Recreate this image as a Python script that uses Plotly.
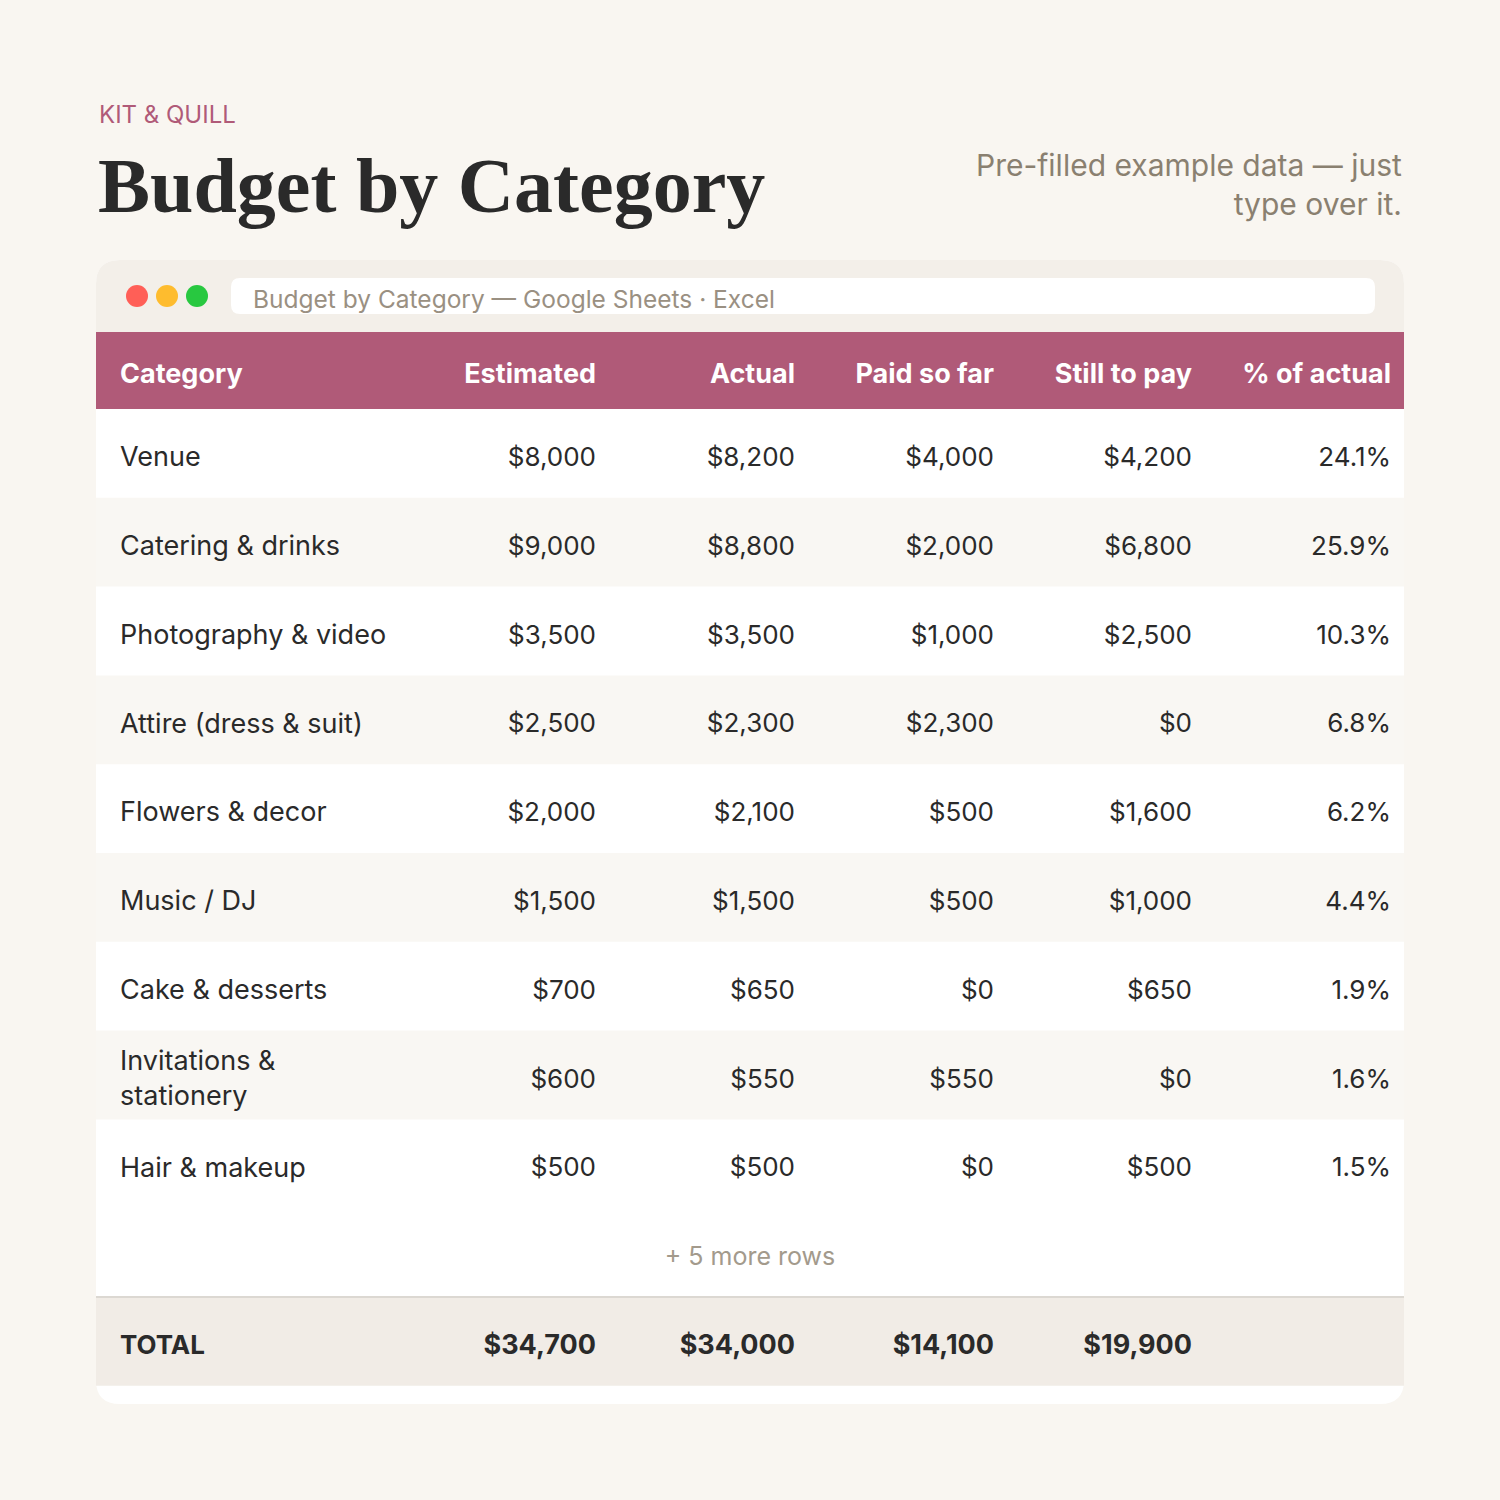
import plotly.graph_objects as go

# ---- data ----
categories = ["Venue", "Catering & drinks", "Photography & video", "Attire (dress & suit)",
              "Flowers & decor", "Music / DJ", "Cake & desserts", "Invitations &<br>stationery",
              "Hair & makeup"]
estimated = [8000, 9000, 3500, 2500, 2000, 1500, 700, 600, 500]
actual = [8200, 8800, 3500, 2300, 2100, 1500, 650, 550, 500]
paid_so_far = [4000, 2000, 1000, 2300, 500, 500, 0, 550, 0]
still_to_pay = [4200, 6800, 2500, 0, 1600, 1000, 650, 0, 500]
pct_of_actual = [24.1, 25.9, 10.3, 6.8, 6.2, 4.4, 1.9, 1.6, 1.5]

headers = ["Category", "Estimated", "Actual", "Paid so far", "Still to pay", "% of actual"]
totals = [34700, 34000, 14100, 19900]
hidden_rows = 5

# ---- layout constants ----
BG = "#F9F6F1"
ROSE = "#B05A78"
INK = "#2A2A2A"
SANS = "Inter, Open Sans, sans-serif"
SERIF = "Liberation Serif, DejaVu Serif, serif"
OFF = 8   # page body margin, so axis units line up with window pixels
DY = 6    # nudge table text down a little (font metrics)

CARD_L, CARD_R, CARD_T, CARD_B = 96, 1404, 260, 1404
HEAD_T, HEAD_B = 332, 409
ROW_H = 88.8
COL_LEFT = 120
COL_RIGHT = [596, 795, 994, 1192, 1391]


def money(v):
    return f"${v:,}"


def rounded_path(x0, y0, x1, y1, r, top=True, bottom=True):
    rt = r if top else 0
    rb = r if bottom else 0
    return (f"M{x0 + rt},{y0} L{x1 - rt},{y0} Q{x1},{y0} {x1},{y0 + rt} "
            f"L{x1},{y1 - rb} Q{x1},{y1} {x1 - rb},{y1} L{x0 + rb},{y1} "
            f"Q{x0},{y1} {x0},{y1 - rb} L{x0},{y0 + rt} Q{x0},{y0} {x0 + rt},{y0} Z")


n = len(categories)
head_mid = (HEAD_T + HEAD_B) / 2 + DY
row_mid = [HEAD_B + ROW_H * (i + 0.5) + DY for i in range(n)]
more_mid = HEAD_B + ROW_H * (n + 0.5) + DY
total_top = HEAD_B + ROW_H * (n + 1)
total_bot = total_top + ROW_H
total_mid = (total_top + total_bot) / 2 + DY

shapes = []
# card
shapes.append(dict(type="path", path=rounded_path(CARD_L, CARD_T, CARD_R, CARD_B, 24),
                   fillcolor="white", line=dict(width=0), layer="below"))
# window bar
shapes.append(dict(type="path", path=rounded_path(CARD_L, CARD_T, CARD_R, HEAD_T, 24, bottom=False),
                   fillcolor="#F3EFE9", line=dict(width=0), layer="below"))
# address bar
shapes.append(dict(type="path", path=rounded_path(231, 278, 1375, 314, 9),
                   fillcolor="white", line=dict(width=0), layer="below"))
# traffic lights
for cx, col in zip([137, 167, 197], ["#FF5F57", "#FEBC2E", "#28C840"]):
    shapes.append(dict(type="circle", x0=cx - 11, x1=cx + 11, y0=296 - 11, y1=296 + 11,
                       fillcolor=col, line=dict(width=0), layer="below"))
# header band
shapes.append(dict(type="rect", x0=CARD_L, x1=CARD_R, y0=HEAD_T, y1=HEAD_B,
                   fillcolor=ROSE, line=dict(width=0), layer="below"))
# zebra rows
for i in range(n):
    if i % 2 == 1:
        shapes.append(dict(type="rect", x0=CARD_L, x1=CARD_R,
                           y0=HEAD_B + ROW_H * i, y1=HEAD_B + ROW_H * (i + 1),
                           fillcolor="#F9F7F3", line=dict(width=0), layer="below"))
# total band
shapes.append(dict(type="rect", x0=CARD_L, x1=CARD_R, y0=total_top, y1=total_bot,
                   fillcolor="#F1ECE6", line=dict(width=0), layer="below"))
shapes.append(dict(type="line", x0=CARD_L, x1=CARD_R, y0=total_top, y1=total_top,
                   line=dict(color="#DCD8D2", width=2), layer="below"))

fig = go.Figure()

# header labels
fig.add_trace(go.Scatter(
    x=[COL_LEFT], y=[head_mid], mode="text", text=[f"<b>{headers[0]}</b>"],
    textposition="middle right", textfont=dict(family=SANS, size=27, color="white"),
    hoverinfo="skip", showlegend=False))
fig.add_trace(go.Scatter(
    x=COL_RIGHT, y=[head_mid] * 5, mode="text",
    text=[f"<b>{h}</b>" for h in headers[1:]],
    textposition="middle left", textfont=dict(family=SANS, size=27, color="white"),
    hoverinfo="skip", showlegend=False))

# body cells
fig.add_trace(go.Scatter(
    x=[COL_LEFT] * n, y=row_mid, mode="text", text=categories,
    textposition="middle right", textfont=dict(family=SANS, size=27, color=INK),
    hoverinfo="skip", showlegend=False))
columns = [
    [money(v) for v in estimated],
    [money(v) for v in actual],
    [money(v) for v in paid_so_far],
    [money(v) for v in still_to_pay],
    [f"{v:.1f}%" for v in pct_of_actual],
]
for xr, col in zip(COL_RIGHT, columns):
    fig.add_trace(go.Scatter(
        x=[xr] * n, y=row_mid, mode="text", text=col,
        textposition="middle left", textfont=dict(family=SANS, size=26, color=INK),
        hoverinfo="skip", showlegend=False))

# more rows note
fig.add_trace(go.Scatter(
    x=[(CARD_L + CARD_R) / 2], y=[more_mid], mode="text", text=[f"+ {hidden_rows} more rows"],
    textposition="middle center", textfont=dict(family=SANS, size=25, color="#A39A8C"),
    hoverinfo="skip", showlegend=False))

# totals
fig.add_trace(go.Scatter(
    x=[COL_LEFT], y=[total_mid], mode="text", text=["<b>TOTAL</b>"],
    textposition="middle right", textfont=dict(family=SANS, size=26, color=INK),
    hoverinfo="skip", showlegend=False))
fig.add_trace(go.Scatter(
    x=COL_RIGHT[:4], y=[total_mid] * 4, mode="text", text=[f"<b>{money(v)}</b>" for v in totals],
    textposition="middle left", textfont=dict(family=SANS, size=27, color=INK),
    hoverinfo="skip", showlegend=False))

annotations = [
    dict(x=97, y=114, text="KIT &amp; QUILL", showarrow=False, xanchor="left", yanchor="middle",
         font=dict(family=SANS, size=24, color=ROSE)),
    dict(x=96, y=185, text="<b>Budget by Category</b>", showarrow=False, xanchor="left",
         yanchor="middle", font=dict(family=SERIF, size=78, color=INK)),
    dict(x=1404, y=184, text="Pre-filled example data — just<br>type over it.", showarrow=False,
         xanchor="right", yanchor="middle", align="right",
         font=dict(family=SANS, size=30, color="#8A8070")),
    dict(x=251, y=299, text="Budget by Category — Google Sheets · Excel", showarrow=False,
         xanchor="left", yanchor="middle", font=dict(family=SANS, size=24.5, color="#9A9082")),
]

fig.update_layout(
    width=1500, height=1500,
    margin=dict(l=0, r=0, t=0, b=0),
    paper_bgcolor=BG, plot_bgcolor=BG,
    xaxis=dict(range=[OFF, 1500 + OFF], visible=False, fixedrange=True),
    yaxis=dict(range=[1500 + OFF, OFF], visible=False, fixedrange=True),
    shapes=shapes,
    annotations=annotations,
)

fig.write_html("out.html", post_script=f"document.body.style.background='{BG}';")
